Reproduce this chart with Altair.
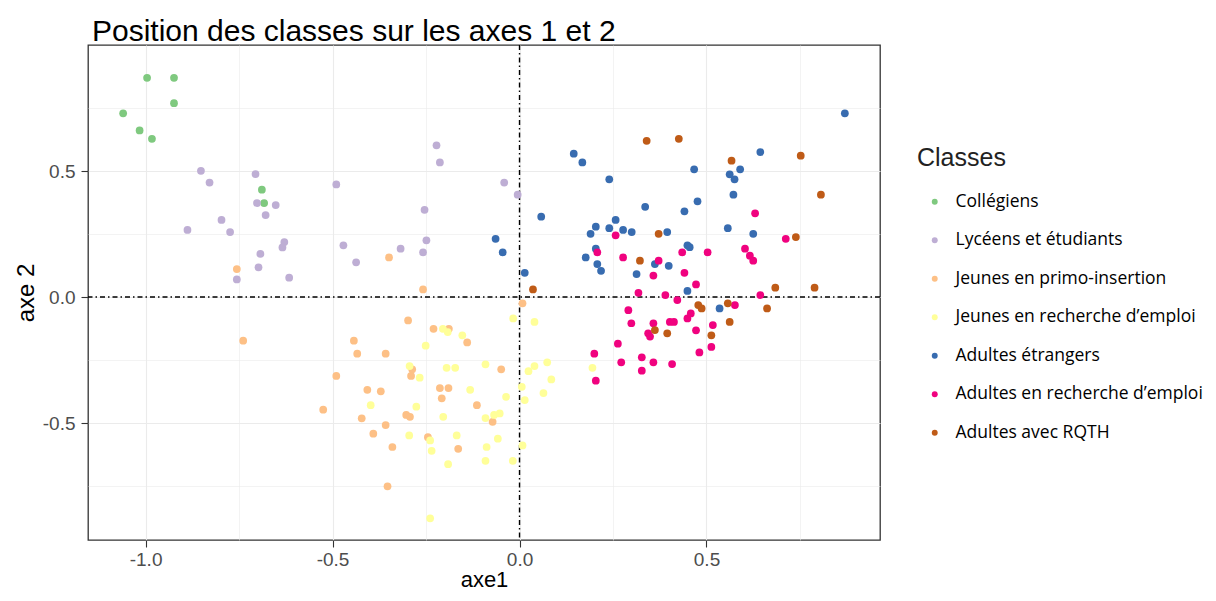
import altair as alt
import pandas as pd

classes = ["Collégiens", "Lycéens et étudiants", "Jeunes en primo-insertion",
           "Jeunes en recherche d’emploi", "Adultes étrangers",
           "Adultes en recherche d’emploi", "Adultes avec RQTH"]
colors = ["#7FC97F", "#BEAED4", "#FDC086", "#FFFF99", "#386CB0", "#F0027F", "#BF5B17"]

col_x = [-0.996, -0.924, -0.924, -1.060, -1.016, -0.983, -0.689, -0.683]
col_y = [0.870, 0.870, 0.769, 0.729, 0.661, 0.628, 0.426, 0.373]

lyc_x = [-0.852, -0.829, -0.706, -0.702, -0.652, -0.679, -0.797, -0.888, -0.774, -0.629, -0.634,
         -0.693, -0.698, -0.756, -0.616, -0.490, -0.471, -0.437, -0.222, -0.213, -0.041, -0.005,
         -0.254, -0.249, -0.318, -0.258]
lyc_y = [0.501, 0.454, 0.488, 0.373, 0.365, 0.325, 0.306, 0.266, 0.258, 0.218, 0.197,
         0.171, 0.118, 0.070, 0.077, 0.447, 0.205, 0.138, 0.602, 0.534, 0.454, 0.406,
         0.346, 0.225, 0.192, 0.177]

pri_x = [-0.756, -0.349, -0.258, 0.008, -0.298, -0.230, -0.189, -0.140, -0.443, -0.434, -0.358,
         -0.049, -0.287, -0.290, -0.407, -0.371, -0.213, -0.190, -0.208, -0.114, -0.303, -0.293,
         -0.422, -0.358, -0.072, -0.391, -0.245, -0.340, -0.164, -0.353, -0.739, -0.490, -0.525]
pri_y = [0.111, 0.157, 0.030, -0.025, -0.093, -0.126, -0.126, -0.180, -0.173, -0.225, -0.225,
         -0.287, -0.287, -0.313, -0.368, -0.374, -0.361, -0.361, -0.402, -0.429, -0.468, -0.475,
         -0.481, -0.508, -0.495, -0.542, -0.556, -0.595, -0.602, -0.751, -0.173, -0.313, -0.447]

jre_x = [-0.017, 0.040, -0.205, -0.192, -0.153, -0.251, -0.294, -0.267, -0.195, -0.172, -0.091,
         0.024, 0.040, 0.074, 0.085, 0.064, 0.006, 0.014, -0.036, -0.132, -0.398, -0.276,
         -0.204, -0.091, -0.068, -0.053, -0.295, -0.239, -0.235, -0.168, -0.058, -0.088,
         0.008, -0.191, -0.091, -0.018, -0.239, 0.195]
jre_y = [-0.085, -0.099, -0.126, -0.139, -0.152, -0.193, -0.274, -0.320, -0.281, -0.281, -0.267,
         -0.294, -0.274, -0.259, -0.327, -0.381, -0.356, -0.409, -0.396, -0.368, -0.429, -0.435,
         -0.475, -0.480, -0.468, -0.462, -0.549, -0.569, -0.610, -0.549, -0.562, -0.595,
         -0.589, -0.663, -0.650, -0.650, -0.878, -0.281]

etr_x = [0.145, 0.168, 0.240, 0.058, -0.064, -0.045, 0.014, 0.204, 0.190, 0.257, 0.240, 0.204,
         0.177, 0.208, 0.218, 0.870, 0.644, 0.467, 0.590, 0.562, 0.575, 0.572, 0.476, 0.336,
         0.441, 0.277, 0.300, 0.395, 0.557, 0.625, 0.449, 0.455, 0.362, 0.399, 0.313, 0.449, 0.535]
etr_y = [0.569, 0.534, 0.467, 0.319, 0.231, 0.177, 0.096, 0.279, 0.251, 0.306, 0.273, 0.192,
         0.157, 0.131, 0.104, 0.729, 0.575, 0.507, 0.507, 0.487, 0.467, 0.406, 0.380, 0.358,
         0.340, 0.266, 0.258, 0.258, 0.273, 0.251, 0.205, 0.198, 0.131, 0.124, 0.091, 0.024, -0.045]

are_x = [0.257, 0.208, 0.630, 0.712, 0.277, 0.435, 0.372, 0.503, 0.603, 0.616, 0.625, 0.358,
         0.441, 0.472, 0.318, 0.390, 0.644, 0.422, 0.576, 0.291, 0.299, 0.358, 0.344, 0.349,
         0.402, 0.413, 0.449, 0.458, 0.472, 0.517, 0.513, 0.481, 0.263, 0.272, 0.327, 0.327,
         0.358, 0.408, 0.200, 0.204]
are_y = [0.245, 0.177, 0.332, 0.231, 0.157, 0.177, 0.144, 0.177, 0.192, 0.164, 0.144, 0.085,
         0.096, 0.050, 0.017, 0.008, 0.008, -0.012, -0.032, -0.052, -0.104, -0.104, -0.144, -0.157,
         -0.099, -0.099, -0.085, -0.065, -0.132, -0.111, -0.198, -0.220, -0.185, -0.259, -0.239, -0.292,
         -0.259, -0.266, -0.225, -0.332]

rqth_x = [0.036, 0.340, 0.426, 0.567, 0.752, 0.806, 0.372, 0.739, 0.322, 0.684, 0.789, 0.478,
          0.487, 0.557, 0.662, 0.562, 0.513, 0.395, 0.362]
rqth_y = [0.030, 0.620, 0.628, 0.541, 0.561, 0.406, 0.251, 0.238, 0.144, 0.037, 0.037, -0.032,
          -0.045, -0.025, -0.045, -0.099, -0.152, -0.144, -0.131]

xs = [col_x, lyc_x, pri_x, jre_x, etr_x, are_x, rqth_x]
ys = [col_y, lyc_y, pri_y, jre_y, etr_y, are_y, rqth_y]

x_ticks = [-1.0, -0.75, -0.5, -0.25, 0.0, 0.25, 0.5, 0.75]
y_ticks = [-0.75, -0.5, -0.25, 0.0, 0.25, 0.5, 0.75]
ref_x = [0.0]
ref_y = [0.0]

rows = []
for c, xl, yl in zip(classes, xs, ys):
    for a, b in zip(xl, yl):
        rows.append({"axe1": a, "axe2": b, "Classes": c})
df = pd.DataFrame(rows)

major_test = "abs(datum.value*2 - round(datum.value*2)) < 0.001"

xscale = alt.Scale(domain=[-1.154, 0.964], nice=False, zero=False)
yscale = alt.Scale(domain=[-0.964, 1.0], nice=False, zero=False)

def axis_common(title_pad, vals, label_pad, title_size):
    return dict(
        values=vals,
        labelExpr=f"({major_test}) ? replace(format(datum.value, '.1f'), '\u2212', '-') : ''",
        grid=True,
        gridColor="#EBEBEB",
        gridWidth={"condition": {"test": major_test, "value": 1.1}, "value": 0.6},
        tickOpacity={"condition": {"test": major_test, "value": 1}, "value": 0},
        tickColor="#333333",
        tickSize=7,
        tickWidth=1.1,
        domain=False,
        labelFont="Liberation Sans",
        labelFontSize=19,
        labelColor="#4D4D4D",
        labelPadding=label_pad,
        titleFont="Liberation Sans",
        titleFontSize=title_size,
        titleFontWeight="normal",
        titleColor="#000000",
        titlePadding=title_pad,
    )

points = alt.Chart(df).mark_circle(size=60, opacity=1).encode(
    x=alt.X("axe1:Q", scale=xscale, title="axe1", axis=alt.Axis(**axis_common(0, x_ticks, 3, 22))),
    y=alt.Y("axe2:Q", scale=yscale, title="axe 2", axis=alt.Axis(**axis_common(4, y_ticks, 6, 24))),
    color=alt.Color("Classes:N", scale=alt.Scale(domain=classes, range=colors),
                    legend=alt.Legend(
                        orient="none", legendX=829, legendY=101,
                        title="Classes", titleFont="Liberation Sans", titleFontSize=25,
                        titleFontWeight="normal", titleColor="#222222", titlePadding=22,
                        labelFont="Open Sans", labelFontSize=17.5, labelColor="#000000",
                        symbolType="circle", symbolSize=35, symbolOffset=9,
                        symbolStrokeWidth=0, labelOffset=12, rowPadding=19.5, padding=0,
                        labelLimit=400)),
)

vline = alt.Chart(pd.DataFrame({"v": ref_x})).mark_rule(
    color="#000000", strokeWidth=1.4, strokeDash=[5, 3, 1.5, 3]).encode(x=alt.X("v:Q", scale=xscale))
hline = alt.Chart(pd.DataFrame({"h": ref_y})).mark_rule(
    color="#000000", strokeWidth=1.4, strokeDash=[5, 3, 1.5, 3]).encode(y=alt.Y("h:Q", scale=yscale))

chart = alt.layer(vline, hline, points).properties(
    width=792, height=495,
    autosize="none",
    padding={"left": 80, "top": 37, "right": 328, "bottom": 50},
    title=alt.TitleParams("Position des classes sur les axes 1 et 2", anchor="start", frame="group",
                          font="Liberation Sans", fontSize=30, fontWeight="normal",
                          color="#000000", offset=-3, dx=4),
).configure_view(stroke="#333333", strokeWidth=1.3)

chart.save("out.html", embed_options={"renderer": "svg", "actions": False})
